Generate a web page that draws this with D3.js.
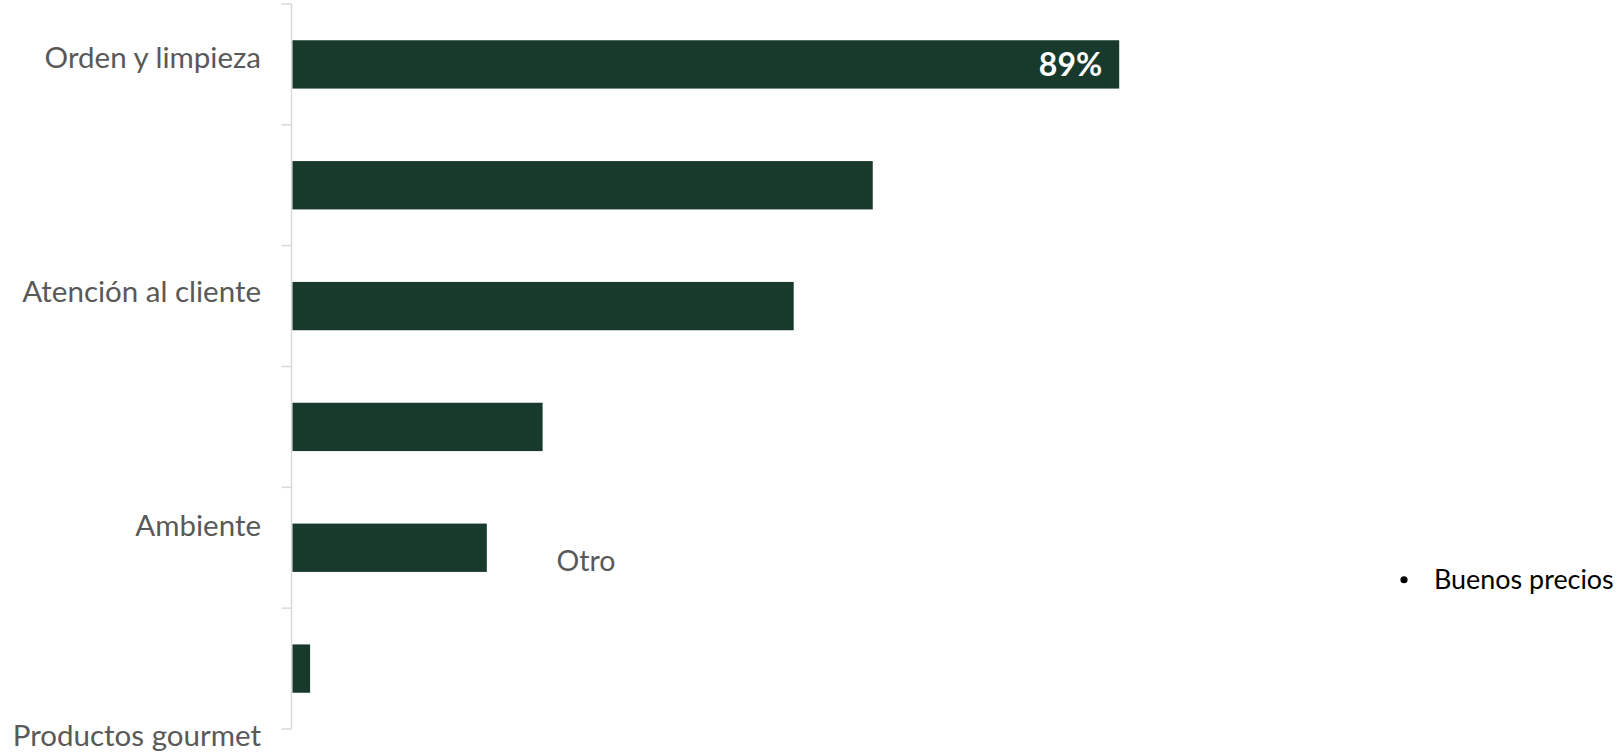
<!DOCTYPE html>
<html>
<head>
<meta charset="utf-8">
<script src="https://cdn.jsdelivr.net/npm/d3@7"></script>
<style>
  html, body { margin: 0; padding: 0; background: #ffffff; }
  svg { display: block; }
</style>
</head>
<body>
<script>
// ---- data ----
const categories = ["Orden y limpieza", "Buenos precios", "Atención al cliente", "Otro", "Ambiente", "Productos gourmet"];
const values = [89, 62.5, 54, 27, 21, 2];
const valueLabels = ["89%", "", "", "", "", ""];
const axisLabels = ["Orden y limpieza", "", "Atención al cliente", "", "Ambiente", "Productos gourmet"];
const floatingLabels = ["Otro"];
const bulletLabels = ["Buenos precios"];

// ---- layout ----
const W = 1623, H = 752;
const axisX = 291.5;
const plotTop = 4, plotBottom = 729;
const barColor = "#183a2d";
const labelColor = "#595959";
const font = "Lato, 'Open Sans', sans-serif";

const svg = d3.select("body").append("svg").attr("width", W).attr("height", H);

const x = d3.scaleLinear().domain([0, 100]).range([axisX, axisX + 930]);
const y = d3.scaleBand().domain(categories).range([plotTop, plotBottom]).paddingInner(0.6).paddingOuter(0.3);

const rows = categories.map((c, i) => ({ c, v: values[i], vl: valueLabels[i], al: axisLabels[i], i }));

// axis line and ticks
const step = y.step();
const tickYs = d3.range(categories.length + 1).map(i => plotTop + i * step);
svg.append("line").attr("x1", axisX).attr("x2", axisX).attr("y1", plotTop).attr("y2", plotBottom)
  .attr("stroke", "#d9d9d9").attr("stroke-width", 1.5);
svg.selectAll(".tk").data(tickYs).enter().append("line")
  .attr("x1", axisX - 10).attr("x2", axisX).attr("y1", d => d).attr("y2", d => d)
  .attr("stroke", "#d9d9d9").attr("stroke-width", 1.5);

// bars
svg.selectAll(".bar").data(rows).enter().append("rect")
  .attr("x", x(0) + 1)
  .attr("y", d => y(d.c))
  .attr("width", d => x(d.v) - x(0) - 1)
  .attr("height", y.bandwidth())
  .attr("fill", barColor);

// value label
svg.selectAll(".vl").data(rows.filter(d => d.vl !== "")).enter().append("text")
  .attr("x", d => x(d.v) - 17)
  .attr("y", d => y(d.c) + y.bandwidth() / 2)
  .attr("dy", "0.36em")
  .attr("text-anchor", "end")
  .attr("fill", "#ffffff")
  .attr("font-family", font)
  .attr("font-weight", "bold")
  .attr("font-size", 32)
  .text(d => d.vl);

// category labels (as placed on the slide: nudged from band centres)
const labelNudge = [-7, 0, -15, 0, -22, 67];
svg.selectAll(".cl").data(rows.filter(d => d.al !== "")).enter().append("text")
  .attr("x", 261)
  .attr("y", d => y(d.c) + y.bandwidth() / 2 + labelNudge[d.i])
  .attr("dy", "0.36em")
  .attr("text-anchor", "end")
  .attr("fill", labelColor)
  .attr("font-family", font)
  .attr("font-size", 29.5)
  .text(d => d.al);

// floating "Otro" label beside the fifth bar
svg.selectAll(".fl").data(floatingLabels).enter().append("text")
  .attr("x", x(28.5))
  .attr("y", y(categories[4]) + y.bandwidth() / 2 + 13)
  .attr("dy", "0.36em")
  .attr("fill", labelColor)
  .attr("font-family", font)
  .attr("font-size", 28.5)
  .text(d => d);

// bullet text at right
const gb = svg.selectAll(".bl").data(bulletLabels).enter().append("g")
  .attr("transform", `translate(1400, ${y(categories[4]) + y.bandwidth() / 2 + 32})`);
gb.append("circle").attr("cx", 4).attr("cy", 0).attr("r", 3.6).attr("fill", "#000");
gb.append("text").attr("x", 34).attr("dy", "0.36em")
  .attr("fill", "#000").attr("font-family", font).attr("font-size", 26.9)
  .text(d => d);
</script>
</body>
</html>
